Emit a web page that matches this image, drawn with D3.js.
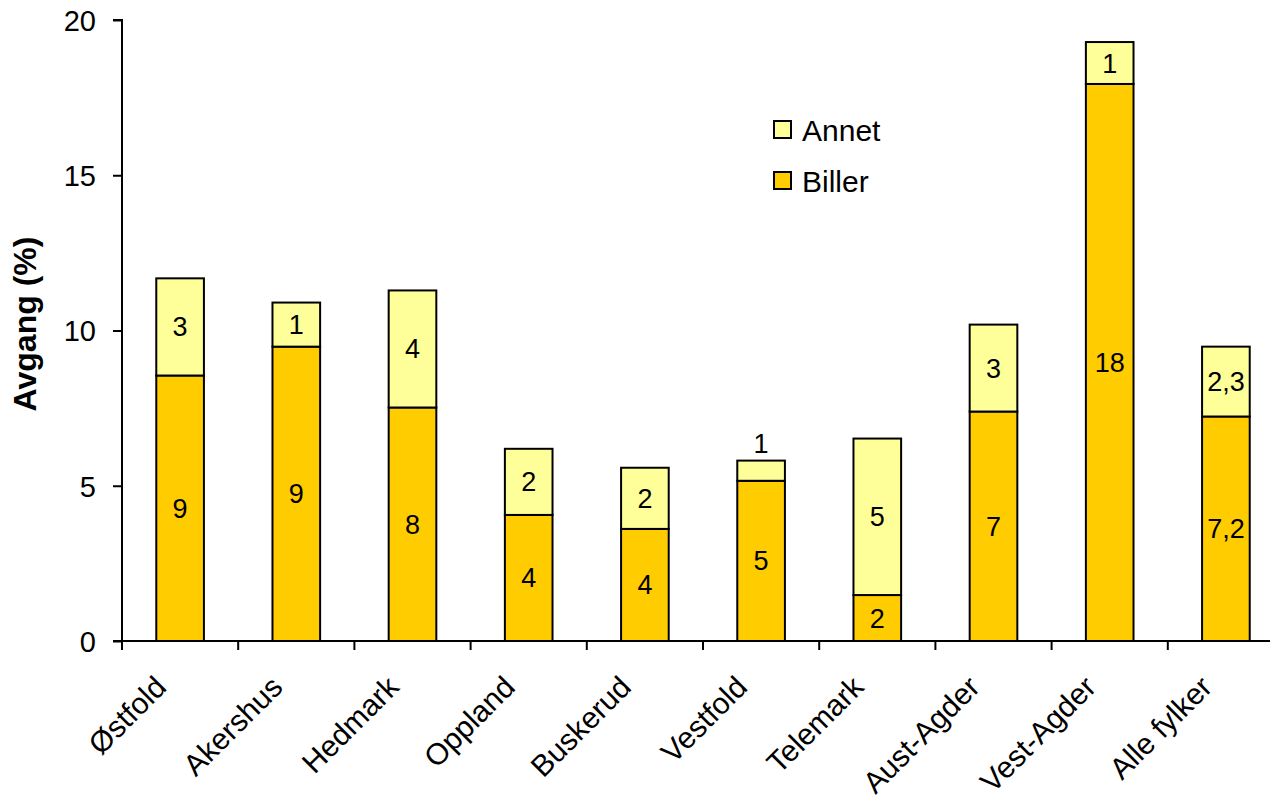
<!DOCTYPE html>
<html><head><meta charset="utf-8">
<script src="https://cdn.jsdelivr.net/npm/d3@7/dist/d3.min.js"></script>
<style>
html,body{margin:0;padding:0;background:#fff;}
svg text{font-family:"Liberation Sans",Arial,sans-serif;fill:#000;}
</style></head>
<body><svg id="chart" width="1270" height="799"></svg>
<script>
const categories = ["Østfold","Akershus","Hedmark","Oppland","Buskerud","Vestfold","Telemark","Aust-Agder","Vest-Agder","Alle fylker"];
const biller = [8.55,9.48,7.52,4.06,3.61,5.16,1.48,7.39,17.94,7.23];
const annet  = [3.13,1.42,3.77,2.13,1.97,0.65,5.04,2.80,1.35,2.25];
const billerLabels = ["9","9","8","4","4","5","2","7","18","7,2"];
const annetLabels  = ["3","1","4","2","2","1","5","3","1","2,3"];
const yTicks = [0,5,10,15,20];
const seriesNames = ["Annet","Biller"];
const colors = {Biller:"#FFCC00", Annet:"#FFFF99"};

const svg = d3.select("#chart");
const mLeft = 122, mTop = 20, mBottom = 641;
const x = d3.scaleBand().domain(categories).range([mLeft, mLeft + 116.2*categories.length]).paddingInner(0.59).paddingOuter(0.295);
const xTick = d3.scaleBand().domain(categories).range([mLeft, mLeft + 116.2*categories.length]);
const y = d3.scaleLinear().domain([0,20]).range([mBottom, mTop]);

const data = categories.map((c,i)=>({cat:c, Biller:biller[i], Annet:annet[i], bl:billerLabels[i], al:annetLabels[i]}));
const stack = d3.stack().keys(["Biller","Annet"])(data);

const g = svg.append("g");
stack.forEach(layer=>{
  g.selectAll(null).data(layer).enter().append("rect")
    .attr("x", d=>x(d.data.cat))
    .attr("width", x.bandwidth())
    .attr("y", d=>y(d[1]))
    .attr("height", d=>y(d[0])-y(d[1]))
    .attr("fill", colors[layer.key])
    .attr("stroke","#000").attr("stroke-width",2);
});

stack.forEach(layer=>{
  g.selectAll(null).data(layer).enter().append("text")
    .attr("x", d=>x(d.data.cat)+x.bandwidth()/2)
    .attr("y", d=>{
      const h = y(d[0])-y(d[1]);
      if (h < 30) return y(d[1]) - 8;
      return (y(d[0])+y(d[1]))/2 + 9.5;
    })
    .attr("text-anchor","middle")
    .style("font-size","27px")
    .text(d=> layer.key==="Biller" ? d.data.bl : d.data.al);
});

const yAxis = d3.axisLeft(y).tickValues(yTicks).tickSize(9).tickPadding(17).tickFormat(d3.format("d"));
const ya = svg.append("g").attr("transform",`translate(${mLeft},0)`).call(yAxis);
ya.select(".domain").attr("stroke","#000").attr("stroke-width",2).attr("d",`M-9,${mTop}H0V${mBottom}H-9`);
ya.selectAll(".tick line").attr("stroke","#000").attr("stroke-width",2);
ya.selectAll(".tick text").style("font-size","29px").attr("dy","0.36em");

const xa = svg.append("g").attr("transform",`translate(0,${mBottom})`);
xa.append("line").attr("x1",mLeft-9).attr("x2",1290).attr("stroke","#000").attr("stroke-width",2);
const tickPos = categories.map(c=>xTick(c)).concat([xTick(categories[categories.length-1])+xTick.bandwidth()]);
xa.selectAll(null).data(tickPos).enter().append("line")
  .attr("x1",d=>d).attr("x2",d=>d).attr("y1",0).attr("y2",9)
  .attr("stroke","#000").attr("stroke-width",2);
xa.selectAll(null).data(categories).enter().append("text")
  .attr("transform", d=>`translate(${xTick(d)+xTick.bandwidth()/2-12},${48}) rotate(-45)`)
  .attr("text-anchor","end")
  .style("font-size","30px")
  .text(d=>d);

svg.append("text")
  .attr("transform",`translate(36,324) rotate(-90)`)
  .attr("text-anchor","middle")
  .style("font-size","32px").style("font-weight","bold")
  .text("Avgang (%)");

const lg = svg.append("g").attr("transform","translate(774,121)");
seriesNames.forEach((s,i)=>{
  const r = lg.append("g").attr("transform",`translate(0,${i*51})`);
  r.append("rect").attr("width",17).attr("height",17).attr("fill",colors[s]).attr("stroke","#000").attr("stroke-width",2);
  r.append("text").attr("x",28).attr("y",20).style("font-size","30px").text(s);
});
</script></body></html>
